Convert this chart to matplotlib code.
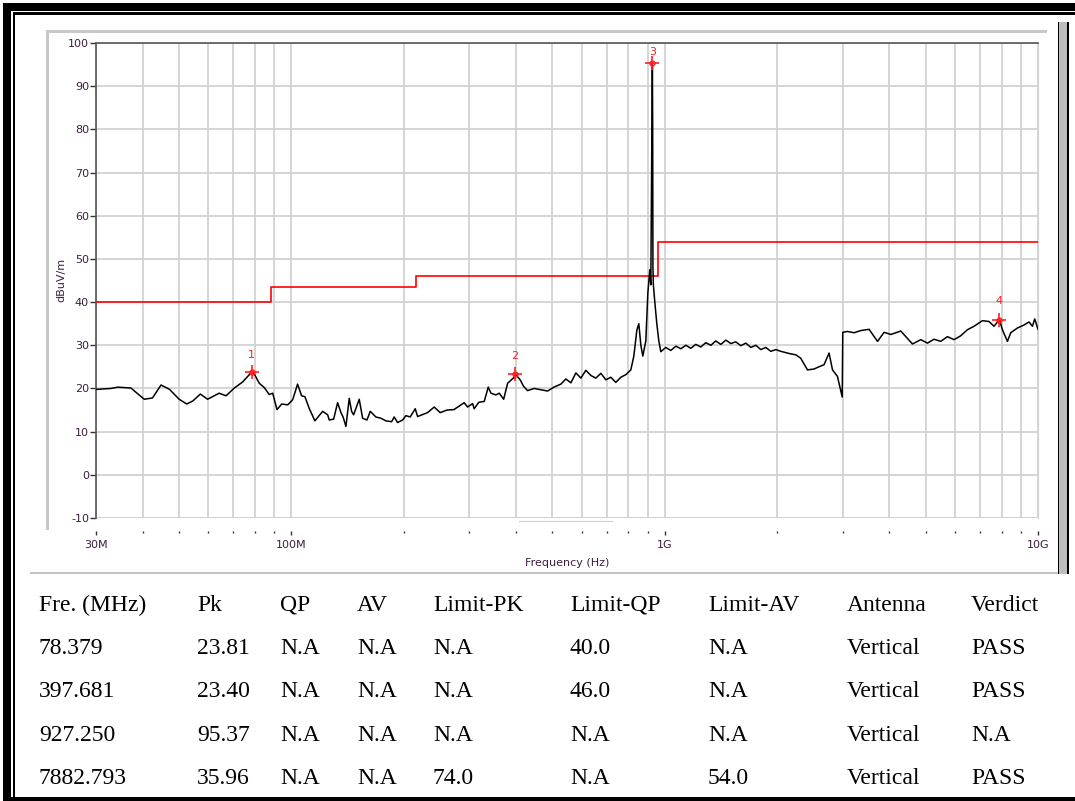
import matplotlib
matplotlib.use('Agg')
import matplotlib.pyplot as plt
from matplotlib.patches import Rectangle
from matplotlib.ticker import FixedLocator, FixedFormatter, NullFormatter

plt.rcParams['axes.unicode_minus'] = False

W, H = 1075, 801

# Measured trace, (frequency MHz, level dBuV/m)
trace_low = [
    (30.0, 19.8), (30.3, 19.8), (32.9, 20.0), (34.3, 20.3), (37.2, 20.1), (40.4, 17.5),
    (42.5, 17.8), (44.8, 20.8), (47.2, 19.8), (50.1, 17.5), (52.5, 16.4), (54.5, 17.1),
    (57.1, 18.7), (59.7, 17.5), (64.1, 18.9), (66.9, 18.3), (70.4, 20.1), (74.1, 21.5),
    (78.379, 23.81), (79.6, 23.4), (82.1, 21.2), (84.7, 20.2), (87.3, 18.6), (89.2, 18.9),
    (91.6, 15.1), (94.3, 16.4), (97.9, 16.2), (100.9, 17.4), (104.0, 21.0), (106.6, 18.3),
    (108.8, 18.1), (111.7, 15.4), (115.7, 12.5), (121.4, 14.7), (125.2, 13.9), (126.4, 12.7),
    (129.9, 12.9), (133.1, 16.7), (135.9, 14.4), (137.8, 13.3), (140.1, 11.2), (143.0, 17.7),
    (145.1, 14.7), (146.9, 13.9), (152.1, 17.5), (155.3, 13.1), (159.5, 12.7), (162.8, 14.7),
    (168.5, 13.4), (173.8, 13.1), (179.3, 12.5), (185.7, 12.3), (188.7, 13.4), (192.7, 12.1),
    (198.8, 12.7), (202.8, 13.7), (208.3, 13.4), (214.8, 15.3), (218.0, 13.5), (227.0, 14.1),
    (231.8, 14.4), (241.5, 15.7), (250.6, 14.4), (261.2, 15.0), (272.7, 15.1), (290.5, 16.7),
]
trace_mid = [
    (296.7, 15.7), (306.0, 16.5), (309.0, 15.3), (318.0, 16.8), (328.8, 17.0), (337.0, 20.3),
    (342.7, 18.9), (353.4, 18.5), (360.7, 18.9), (370.6, 17.5), (379.8, 21.2), (395.5, 22.6),
    (397.681, 23.40), (410.3, 22.0), (419.0, 20.5), (429.5, 19.5), (447.3, 20.0), (466.3, 19.7),
    (486.0, 19.4), (505.2, 20.3), (527.4, 21.0), (543.9, 22.2), (561.0, 21.3), (578.5, 23.6),
    (596.6, 22.4), (615.3, 24.2), (634.6, 23.0), (654.5, 22.4), (675.0, 23.5), (696.2, 22.0),
    (717.7, 22.6), (740.2, 21.4), (763.4, 22.6), (787.3, 23.2), (811.9, 24.3), (827.1, 27.5),
    (842.6, 33.5), (852.9, 35.0), (863.6, 30.0), (874.3, 27.5), (890.6, 31.0), (901.6, 42.0),
    (912.8, 47.5), (918.4, 44.0), (927.25, 95.37), (929.0, 81.0), (930.5, 48.0), (933.0, 44.0),
    (941.4, 40.0), (953.0, 35.0), (964.9, 31.0), (976.8, 28.5),
]
trace_high = [
    (1007, 29.5), (1039, 28.8), (1072, 29.8), (1105, 29.2), (1140, 30.0), (1175, 29.3),
    (1212, 30.2), (1250, 29.6), (1289, 30.6), (1330, 30.0), (1371, 31.0), (1414, 30.2),
    (1459, 31.2), (1504, 30.4), (1551, 30.8), (1600, 29.9), (1650, 30.5), (1702, 29.5),
    (1755, 30.0), (1810, 29.0), (1866, 29.5), (1925, 28.6), (1985, 29.0), (2047, 28.6),
    (2177, 28.0), (2245, 27.8), (2315, 27.0), (2413, 24.3), (2513, 24.5), (2587, 25.0),
    (2673, 25.5), (2757, 28.2), (2816, 24.3), (2903, 22.8), (2990, 18.0), (3000, 33.0),
    (3088, 33.2), (3216, 32.9), (3351, 33.4), (3528, 33.7), (3717, 30.9), (3871, 33.0),
    (4035, 32.5), (4161, 32.9), (4290, 33.3), (4425, 32.0), (4611, 30.3), (4853, 31.3),
    (5058, 30.5), (5267, 31.4), (5489, 30.9), (5721, 32.0), (5959, 31.3), (6210, 32.2),
    (6471, 33.6), (6741, 34.4), (7098, 35.7), (7394, 35.5), (7625, 34.4), (7882.793, 35.96),
    (8029, 33.6), (8282, 30.9), (8452, 32.9), (8808, 34.0), (9175, 34.7), (9462, 35.4),
    (9663, 34.4), (9801, 36.1), (10000, 33.7),
]

# limit line (step edges in MHz, level per band)
limit_edges = [30, 88, 216, 960, 10000]
limit_levels = [40.0, 43.5, 46.0, 54.0]

# markers
marker_no = [1, 2, 3, 4]
marker_freq = [78.379, 397.681, 927.250, 7882.793]
marker_level = [23.81, 23.40, 95.37, 35.96]

# result table
table_header = ['Fre. (MHz)', 'Pk', 'QP', 'AV', 'Limit-PK', 'Limit-QP', 'Limit-AV', 'Antenna', 'Verdict']
table_rows = [
    ['78.379', '23.81', 'N.A', 'N.A', 'N.A', '40.0', 'N.A', 'Vertical', 'PASS'],
    ['397.681', '23.40', 'N.A', 'N.A', 'N.A', '46.0', 'N.A', 'Vertical', 'PASS'],
    ['927.250', '95.37', 'N.A', 'N.A', 'N.A', 'N.A', 'N.A', 'Vertical', 'N.A'],
    ['7882.793', '35.96', 'N.A', 'N.A', '74.0', 'N.A', '54.0', 'Vertical', 'PASS'],
]

x_major = [30e6, 100e6, 1e9, 10e9]
x_major_labels = ['30M', '100M', '1G', '10G']

LBL = '#3d1c40'
GRID = '#d2d2d2'

fig = plt.figure(figsize=(W / 100, H / 100), dpi=100)
fig.patch.set_facecolor('white')


def box(x0, y0, x1, y1, color, z=0):
    fig.add_artist(Rectangle((x0 / W, 1 - y1 / H), (x1 - x0) / W, (y1 - y0) / H,
                             transform=fig.transFigure, facecolor=color,
                             edgecolor='none', zorder=z))


# outer frame
box(3, 3, 1075, 11, 'black')
box(3, 3, 11, 801, 'black')
box(13, 12.5, 1075, 14.5, 'black')
box(13, 12.5, 15, 801, 'black')
box(3, 797, 1075, 801, 'black')

# chart panel decoration
box(46, 30, 1047, 33, '#c8c8c8')
box(46, 30, 49, 530, '#c8c8c8')
box(30, 571.5, 1063, 574, '#c4c4c4')
box(519, 520.5, 613, 522, '#cccccc')
box(1059, 22, 1067, 574, '#bdbdbd')
box(1057.5, 22, 1059, 574, 'black')
box(1067, 22, 1069, 574, 'black')

ax = fig.add_axes([96 / W, 1 - 518 / H, (1038 - 96) / W, (518 - 43) / H])
ax.set_xscale('log')
ax.set_xlim(30e6, 10e9)
ax.set_ylim(-10, 100)

minor = []
for dec in [1e7, 1e8, 1e9]:
    for m in range(2, 10):
        v = m * dec
        if 30e6 < v < 10e9 and v not in x_major:
            minor.append(v)
ax.xaxis.set_major_locator(FixedLocator(x_major))
ax.xaxis.set_major_formatter(FixedFormatter(x_major_labels))
ax.xaxis.set_minor_locator(FixedLocator(minor))
ax.xaxis.set_minor_formatter(NullFormatter())
ax.set_yticks(range(-10, 101, 10))

ax.grid(True, which='both', color=GRID, lw=1.3)
ax.axhline(-10, color=GRID, lw=2, zorder=1)
ax.set_axisbelow(True)

for s in ['top', 'left']:
    ax.spines[s].set_color('#555555')
    ax.spines[s].set_linewidth(1.2)
ax.spines['right'].set_color(GRID)
ax.spines['bottom'].set_position(('outward', 9.5))
ax.spines['bottom'].set_visible(False)

ax.tick_params(axis='x', which='major', length=3, width=1, color='#333333',
               labelsize=8, labelcolor=LBL, pad=3)
ax.tick_params(axis='x', which='minor', length=1.5, width=1, color='#333333')
ax.tick_params(axis='y', length=4, width=1, color='#333333', labelsize=8,
               labelcolor=LBL, pad=1)

# limit line
lx, ly = [], []
for i, lv in enumerate(limit_levels):
    lx += [limit_edges[i] * 1e6, limit_edges[i + 1] * 1e6]
    ly += [lv, lv]
ax.plot(lx, ly, color='#ff0000', lw=1.2, zorder=3)

# measured trace
pts = trace_low + trace_mid + trace_high
ax.plot([p[0] * 1e6 for p in pts], [p[1] for p in pts], color='black', lw=1.1, zorder=4)

# markers
offsets = {1: 12, 2: 13, 3: 8, 4: 13}
for n, f, lv in zip(marker_no, marker_freq, marker_level):
    ax.plot(f * 1e6, lv, marker='+', ms=10, mew=1.2, color='#ff2020', zorder=5)
    ax.plot(f * 1e6, lv, marker='o', ms=3.5, mfc='none', mec='#ff2020', mew=1, zorder=5)
    ax.annotate(str(n), (f * 1e6, lv), xytext=(0, offsets[n]), textcoords='offset points',
                ha='center', va='center', color='#ff2020', fontsize=8, zorder=6)

fig.text(61 / W, 1 - 280 / H, 'dBuV/m', rotation=90, ha='center', va='center',
         fontsize=8, color=LBL)
fig.text(567 / W, 1 - 563 / H, 'Frequency (Hz)', ha='center', va='center',
         fontsize=8, color=LBL)

# table
col_x = [39, 197, 280, 357, 433, 570, 708, 847, 971]
row_base = [611, 654, 697, 741, 784]
for r, row in enumerate([table_header] + table_rows):
    for c, txt in enumerate(row):
        fig.text(col_x[c] / W, 1 - row_base[r] / H, txt, ha='left', va='baseline',
                 fontsize=17, family='Liberation Serif', color='black')

fig.savefig('out.png', dpi=100)
